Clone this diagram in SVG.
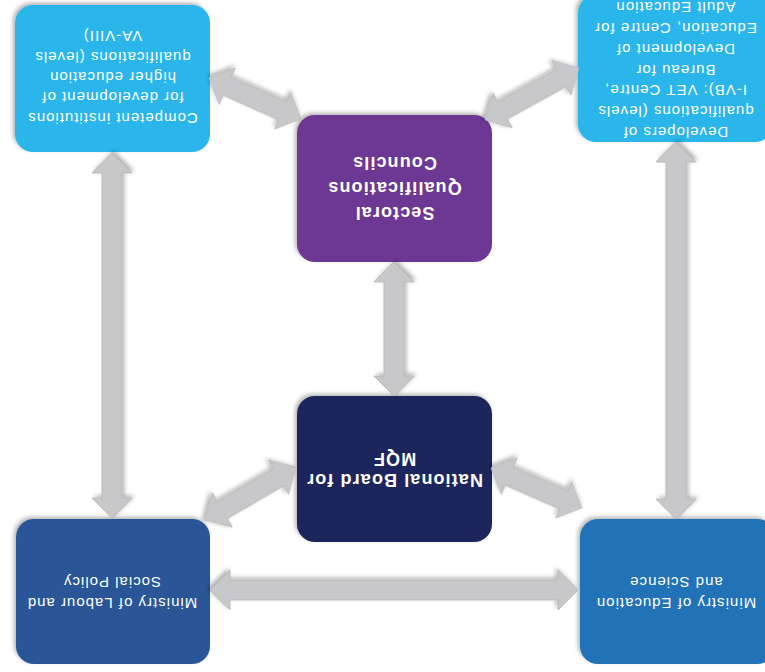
<svg xmlns="http://www.w3.org/2000/svg" width="765" height="672" viewBox="0 0 765 672">
<defs>
<filter id="sh" x="-20%" y="-20%" width="140%" height="140%">
<feDropShadow dx="-2" dy="-2" stdDeviation="2" flood-color="#000" flood-opacity="0.3"/>
</filter>
<style>
.box{filter:url(#sh)}
.arr{fill:#c8c8cb;stroke:#b2b2b4;stroke-width:0.8;filter:url(#sh)}
.t{font-family:"Liberation Sans",Arial,sans-serif;font-size:15px;fill:#fff;text-anchor:middle;letter-spacing:1px}
.b{font-family:"Liberation Sans",Arial,sans-serif;font-size:18px;font-weight:bold;fill:#fff;text-anchor:middle;letter-spacing:1.1px}
</style>
</defs>
<rect width="765" height="672" fill="#fff"/>

<g id="node-competent">
<rect class="box" x="15" y="5" width="195" height="147" rx="18" fill="#29b6ea"/>
<g transform="rotate(180 112.5 78.5)">
<text class="t" x="112.5" y="44">Competent institutions</text>
<text class="t" x="112.5" y="65">for development of</text>
<text class="t" x="112.5" y="85">higher education</text>
<text class="t" x="112.5" y="105">qualifications (levels</text>
<text class="t" x="112.5" y="126">VA-VIII)</text>
</g>
</g>

<g id="node-developers">
<rect class="box" x="578" y="-5" width="195" height="147" rx="18" fill="#29b6ea"/>
<g transform="rotate(180 675.5 68.5)">
<text class="t" x="675.5" y="10">Developers of</text>
<text class="t" x="675.5" y="30.8">qualifications (levels</text>
<text class="t" x="675.5" y="51.6">I-VB): VET Centre,</text>
<text class="t" x="675.5" y="72.4">Bureau for</text>
<text class="t" x="675.5" y="93.2">Development of</text>
<text class="t" x="675.5" y="114">Education, Centre for</text>
<text class="t" x="675.5" y="134.8">Adult Education</text>
</g>
</g>

<g id="node-sectoral">
<rect class="box" x="297" y="115" width="195" height="147" rx="18" fill="#6c3794"/>
<g transform="rotate(180 394.5 188.5)">
<text class="b" x="394.5" y="170">Sectoral</text>
<text class="b" x="394.5" y="195">Qualifications</text>
<text class="b" x="394.5" y="220">Councils</text>
</g>
</g>

<g id="node-board">
<rect class="box" x="297" y="396" width="195" height="146" rx="18" fill="#1f285b"/>
<g transform="rotate(180 394.5 469)">
<text class="b" x="394.5" y="464">National Board for</text>
<text class="b" x="394.5" y="485">MQF</text>
</g>
</g>

<g id="node-labour">
<rect class="box" x="16" y="519" width="194" height="145" rx="18" fill="#2c5597"/>
<g transform="rotate(180 112.5 591.5)">
<text class="t" x="113" y="585">Ministry of Labour and</text>
<text class="t" x="113" y="606">Social Policy</text>
</g>
</g>

<g id="node-education">
<rect class="box" x="580" y="519" width="195" height="145" rx="18" fill="#2472b7"/>
<g transform="rotate(180 677.5 591.5)">
<text class="t" x="679" y="585">Ministry of Education</text>
<text class="t" x="679" y="606">and Science</text>
</g>
</g>

<g id="connectors">
<path class="arr" transform="translate(112 153) rotate(90)" d="M0,0 L20,-20 L20,-10 L345,-10 L345,-20 L365,0 L345,20 L345,10 L20,10 L20,20 Z"/>
<path class="arr" transform="translate(676 142) rotate(90)" d="M0,0 L20,-20 L20,-10 L357,-10 L357,-20 L377,0 L357,20 L357,10 L20,10 L20,20 Z"/>
<path class="arr" transform="translate(394 262) rotate(90)" d="M0,0 L20,-20 L20,-10 L114,-10 L114,-20 L134,0 L114,20 L114,10 L20,10 L20,20 Z"/>
<path class="arr" transform="translate(210 590)" d="M0,0 L20,-20 L20,-10 L348,-10 L348,-20 L368,0 L348,20 L348,10 L20,10 L20,20 Z"/>
<path class="arr" transform="translate(209 78) rotate(24)" d="M0,0 L20,-20 L20,-10 L80.7,-10 L80.7,-20 L100.7,0 L80.7,20 L80.7,10 L20,10 L20,20 Z"/>
<path class="arr" transform="translate(485 120) rotate(-28.95)" d="M0,0 L20,-20 L20,-10 L87.4,-10 L87.4,-20 L107.4,0 L87.4,20 L87.4,10 L20,10 L20,20 Z"/>
<path class="arr" transform="translate(205 520) rotate(-30.2)" d="M0,0 L20,-20 L20,-10 L85.3,-10 L85.3,-20 L105.3,0 L85.3,20 L85.3,10 L20,10 L20,20 Z"/>
<path class="arr" transform="translate(491 468) rotate(23.7)" d="M0,0 L20,-20 L20,-10 L79.4,-10 L79.4,-20 L99.4,0 L79.4,20 L79.4,10 L20,10 L20,20 Z"/>
</g>
</svg>
